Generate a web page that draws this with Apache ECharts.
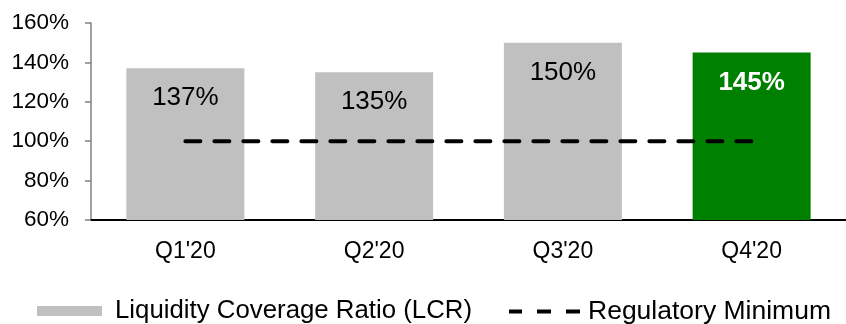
<!DOCTYPE html>
<html>
<head>
<meta charset="utf-8">
<script src="https://cdn.jsdelivr.net/npm/echarts@6/dist/echarts.min.js"></script>
<style>
  html, body { margin: 0; padding: 0; background: #fff; }
  #chart { width: 846px; height: 324px; }
</style>
</head>
<body>
<div id="chart"></div>
<script>
// Quarterly liquidity coverage ratio vs. regulatory floor
const quarters = ["Q1'20", "Q2'20", "Q3'20", "Q4'20"];
const lcrValues = [137, 135, 150, 145];
const regulatoryMinimum = [100, 100, 100, 100];
const yTicks = [60, 80, 100, 120, 140, 160];

const FONT = "'Liberation Sans', Arial, sans-serif";
const GREY = '#C0C0C0';
const GREEN = '#008000';

// three short dashes used as the legend key for the dashed line
const DASH_ICON = 'path://M0,0h13v4h-13z M28,0h14v4h-14z M57,0h14v4h-14z';

const chart = echarts.init(document.getElementById('chart'));

const barData = lcrValues.map((v, i) => {
  const latest = i === lcrValues.length - 1;
  return {
    value: v,
    itemStyle: { color: latest ? GREEN : GREY },
    label: latest ? { color: '#fff', fontWeight: 'bold' } : {}
  };
});

chart.setOption({
  animation: false,
  textStyle: { fontFamily: FONT },
  grid: { left: 91, right: -5, top: 23, bottom: 104, containLabel: false },
  legend: [
    {
      left: 37, top: 298, padding: 0,
      itemWidth: 65, itemHeight: 10,
      textStyle: { fontSize: 25.8, color: '#000', fontFamily: FONT, padding: [0, 0, 0, 8] },
      data: [{ name: 'Liquidity Coverage Ratio (LCR)', icon: 'rect', itemStyle: { color: GREY } }]
    },
    {
      left: 509, top: 298, padding: 0,
      itemWidth: 71, itemHeight: 4,
      textStyle: { fontSize: 26.5, color: '#000', fontFamily: FONT, padding: [0, 0, 0, 3] },
      data: [{ name: 'Regulatory Minimum', icon: DASH_ICON, itemStyle: { color: '#000' } }]
    }
  ],
  xAxis: {
    type: 'category',
    data: quarters,
    axisLine: { lineStyle: { color: '#000', width: 2 } },
    axisTick: { show: false },
    axisLabel: { fontSize: 23, color: '#000', margin: 20, fontFamily: FONT }
  },
  yAxis: {
    type: 'value',
    min: yTicks[0],
    max: yTicks[yTicks.length - 1],
    interval: 20,
    axisLine: { show: true, lineStyle: { color: '#808080', width: 1.5 } },
    axisTick: { show: true, length: 6, lineStyle: { color: '#808080', width: 1.5 } },
    splitLine: { show: false },
    axisLabel: { fontSize: 22.5, color: '#000', margin: 22, fontFamily: FONT, formatter: v => v + '%' }
  },
  series: [
    {
      name: 'Liquidity Coverage Ratio (LCR)',
      type: 'bar',
      barWidth: 118,
      data: barData,
      label: {
        show: true,
        position: 'insideTop',
        distance: 17,
        fontSize: 26,
        color: '#000',
        fontFamily: FONT,
        formatter: p => p.value + '%'
      },
      z: 2
    },
    {
      name: 'Regulatory Minimum',
      type: 'line',
      data: regulatoryMinimum,
      symbol: 'none',
      itemStyle: { color: '#000' },
      lineStyle: { color: '#000', width: 4, type: [15, 14], cap: 'round' },
      z: 3
    }
  ]
});
</script>
</body>
</html>
